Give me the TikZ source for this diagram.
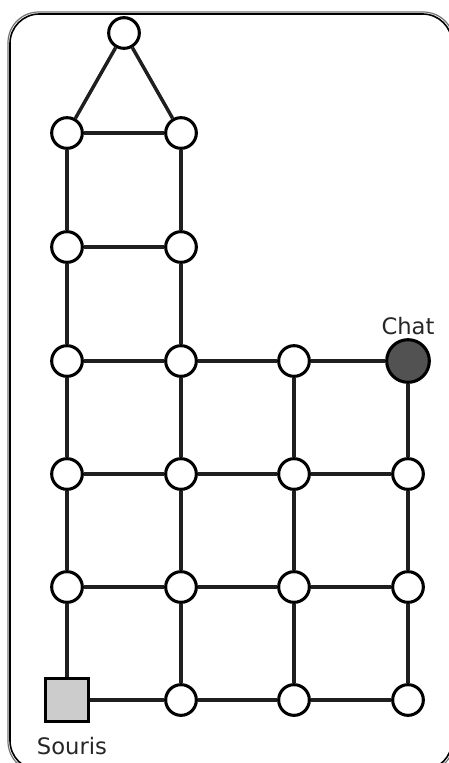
\documentclass[tikz,border=0pt]{standalone}
\usepackage{fontspec}
\setmainfont{DejaVu Sans}
\begin{document}
\begin{tikzpicture}[x=0.75pt,y=-0.75pt,
  edge/.style={line width=2.6pt, draw=black!88},
  vtx/.style={circle, draw=black, line width=2.3pt, fill=white, minimum size=23pt, inner sep=0pt},
  cat/.style={circle, draw=black, line width=2.3pt, fill=black!68, minimum size=32pt, inner sep=0pt},
  mouse/.style={rectangle, draw=black, line width=2.3pt, fill=black!20, minimum size=32pt, inner sep=0pt},
  lbl/.style={font=\fontsize{17}{20}\selectfont, text=black!85}]
\useasboundingbox (0,0) rectangle (449,763);
% outer frame (double rounded border)
\draw[black!55, line width=0.9pt, rounded corners=23pt] (8,12) rectangle (454,772);
\draw[black, line width=1.2pt, rounded corners=22pt] (10,14) rectangle (452,770);
% vertices
\node[vtx] (t) at (124,33) {};
\node[vtx] (a1) at (67,133) {};
\node[vtx] (b1) at (181,133) {};
\node[vtx] (a2) at (67,247) {};
\node[vtx] (b2) at (181,247) {};
\node[vtx] (a3) at (67,361) {};
\node[vtx] (b3) at (181,361) {};
\node[vtx] (c3) at (294,361) {};
\node[cat] (d3) at (408,361) {};
\node[vtx] (a4) at (67,474) {};
\node[vtx] (b4) at (181,474) {};
\node[vtx] (c4) at (294,474) {};
\node[vtx] (d4) at (408,474) {};
\node[vtx] (a5) at (67,587) {};
\node[vtx] (b5) at (181,587) {};
\node[vtx] (c5) at (294,587) {};
\node[vtx] (d5) at (408,587) {};
\node[mouse] (a6) at (67,700) {};
\node[vtx] (b6) at (181,700) {};
\node[vtx] (c6) at (294,700) {};
\node[vtx] (d6) at (408,700) {};
% edges
\draw[edge] (t) -- (a1);
\draw[edge] (t) -- (b1);
\draw[edge] (a1) -- (b1);
\draw[edge] (a1) -- (a2);
\draw[edge] (b1) -- (b2);
\draw[edge] (a2) -- (b2);
\draw[edge] (a2) -- (a3);
\draw[edge] (b2) -- (b3);
\draw[edge] (a3) -- (b3);
\draw[edge] (b3) -- (c3);
\draw[edge] (c3) -- (d3);
\draw[edge] (a3) -- (a4);
\draw[edge] (b3) -- (b4);
\draw[edge] (c3) -- (c4);
\draw[edge] (d3) -- (d4);
\draw[edge] (a4) -- (b4);
\draw[edge] (b4) -- (c4);
\draw[edge] (c4) -- (d4);
\draw[edge] (a4) -- (a5);
\draw[edge] (b4) -- (b5);
\draw[edge] (c4) -- (c5);
\draw[edge] (d4) -- (d5);
\draw[edge] (a5) -- (b5);
\draw[edge] (b5) -- (c5);
\draw[edge] (c5) -- (d5);
\draw[edge] (a5) -- (a6);
\draw[edge] (b5) -- (b6);
\draw[edge] (c5) -- (c6);
\draw[edge] (d5) -- (d6);
\draw[edge] (a6) -- (b6);
\draw[edge] (b6) -- (c6);
\draw[edge] (c6) -- (d6);
% labels
\node[lbl] (chat) at (408,326) {Chat};
\node[lbl] (souris) at (72,746) {Souris};
\end{tikzpicture}
\end{document}
